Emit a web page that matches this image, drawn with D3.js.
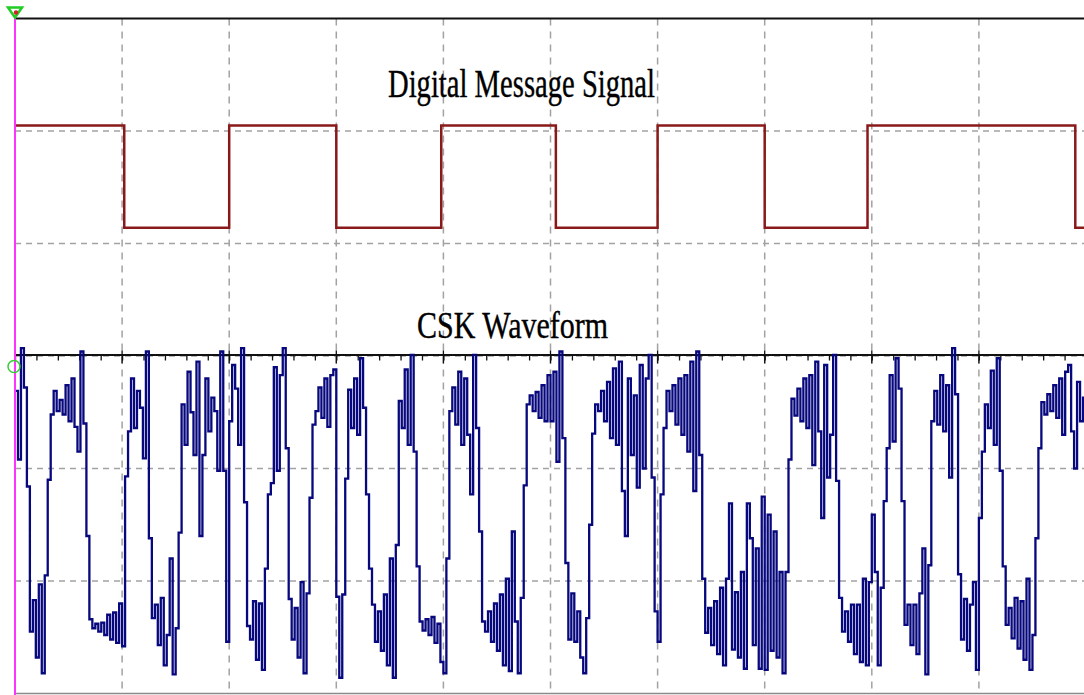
<!DOCTYPE html>
<html>
<head>
<meta charset="utf-8">
<script src="https://cdn.jsdelivr.net/npm/d3@7"></script>
<style>
  html, body { margin: 0; padding: 0; background: #fff; overflow: hidden; }
</style>
</head>
<body>
<div id="chart"></div>
<script>
// ================================
// Data (time in scope divisions, amplitude in grid rows)
// ================================
const titles = ['Digital Message Signal', 'CSK Waveform'];

// Digital message: bit edges and bit values
const msgEdges = [0, 1.02, 2.0, 3.0, 3.98, 5.05, 6.0, 7.0, 7.96, 9.9];
const msgBits = [1, 0, 1, 0, 1, 0, 1, 0, 1, 0];
const msgHigh = 5.05;
const msgLow = 4.14;

// CSK waveform, 36 held samples per division
const cskStep = 1 / 36;
const cskDiv0 = [2.69, 2.08, 3.07, 2.72, 1.84, 0.55, 0.83, 0.32, 0.97, 0.18, 1.05, 1.90, 2.48, 2.69, 2.51, 2.61, 2.48, 2.74, 2.42, 2.80, 2.37, 2.15, 3.04, 2.40, 1.40, 0.66, 0.58, 0.62, 0.55, 0.63, 0.52, 0.70, 0.48, 0.72, 0.45, 0.80];
const cskDiv1 = [0.42, 1.93, 2.33, 2.80, 2.36, 2.69, 2.54, 2.09, 3.04, 1.38, 0.67, 0.79, 0.43, 0.85, 0.25, 0.52, 1.20, 0.17, 0.58, 1.43, 2.57, 2.21, 2.86, 2.50, 2.12, 2.95, 1.40, 2.12, 2.80, 2.33, 2.63, 2.51, 1.98, 3.04, 1.98, 0.46];
const cskDiv2 = [2.42, 2.92, 2.71, 2.21, 3.07, 1.70, 0.60, 0.48, 0.82, 0.30, 0.80, 0.21, 1.11, 1.77, 1.87, 2.90, 1.98, 2.83, 3.07, 2.18, 0.84, 0.48, 0.76, 0.32, 0.99, 0.18, 0.89, 1.74, 2.39, 2.51, 2.72, 2.45, 2.80, 2.37, 2.83, 2.88];
const cskDiv3 = [0.86, 0.14, 0.88, 1.91, 2.70, 2.36, 2.80, 2.30, 2.98, 2.54, 1.77, 1.11, 0.79, 0.46, 0.73, 0.38, 0.88, 0.25, 1.20, 0.14, 1.32, 2.60, 2.36, 2.88, 2.21, 3.01, 2.15, 1.13, 0.64, 0.56, 0.66, 0.52, 0.68, 0.45, 0.62, 0.28];
const cskDiv4 = [0.18, 1.20, 2.51, 2.72, 2.39, 2.86, 2.21, 2.80, 2.30, 1.77, 3.01, 2.36, 1.44, 0.64, 0.55, 0.73, 0.46, 0.80, 0.38, 0.88, 0.25, 1.02, 0.20, 1.44, 0.64, 0.18, 0.85, 1.85, 2.57, 2.65, 2.51, 2.68, 2.45, 2.74, 2.42, 2.83];
const cskDiv5 = [2.42, 2.86, 2.06, 3.04, 2.27, 1.16, 0.48, 0.89, 0.46, 0.73, 0.32, 0.18, 0.67, 1.50, 2.31, 2.57, 2.51, 2.69, 2.42, 2.77, 2.27, 2.89, 2.21, 2.95, 1.80, 1.40, 2.80, 2.12, 2.65, 1.83, 2.92, 2.00, 2.80, 3.01, 1.92, 0.73];
const cskDiv6 = [0.46, 1.77, 2.36, 2.69, 2.51, 2.74, 2.39, 2.80, 2.30, 2.83, 2.15, 2.95, 1.80, 3.04, 2.12, 1.02, 0.54, 0.76, 0.43, 0.82, 0.35, 0.94, 0.25, 1.02, 1.69, 0.39, 0.90, 0.32, 1.08, 0.22, 1.69, 1.38, 0.43, 1.29, 0.22, 1.75];
const cskDiv7 = [0.21, 1.59, 0.38, 1.44, 0.32, 1.08, 0.18, 1.08, 2.08, 2.62, 2.47, 2.71, 2.42, 2.80, 2.36, 2.83, 2.03, 2.95, 2.33, 1.56, 2.92, 1.92, 2.30, 3.01, 1.89, 0.85, 0.55, 0.73, 0.46, 0.79, 0.35, 0.79, 0.28, 1.02, 0.25, 0.99];
const cskDiv8 = [1.59, 1.08, 0.25, 0.94, 1.71, 2.18, 2.83, 2.24, 2.98, 2.71, 1.71, 0.61, 0.79, 0.43, 0.79, 0.35, 0.89, 1.29, 0.17, 1.14, 2.42, 2.69, 2.39, 2.83, 2.33, 2.74, 1.92, 3.07, 2.66, 1.06, 0.48, 0.84, 0.38, 0.79, 0.99, 0.21];
const cskDiv9 = [1.56, 2.15, 2.57, 2.36, 2.87, 2.21, 2.98, 1.98, 1.13, 0.61, 0.76, 0.49, 0.85, 0.40, 0.82, 0.30, 1.02, 0.21, 0.52, 1.38, 2.18, 2.59, 2.48, 2.66, 2.51, 2.74, 2.45, 2.80, 2.30, 2.86, 2.92, 2.33, 2.00, 2.77, 2.42, 2.63];

// ================================
// Setup
// ================================
const width = 1084;
const height = 695;
const serif = '"Liberation Serif", "Times New Roman", serif';

const x = d3.scaleLinear().domain([0, 10]).range([15, 1086]);
const y = d3.scaleLinear().domain([0, 6]).range([693.5, 18.5]);

const svg = d3.select('#chart')
  .append('svg')
  .attr('width', width)
  .attr('height', height);

// Grid
svg.append('g')
  .selectAll('line')
  .data(d3.range(1, 10))
  .join('line')
  .attr('x1', d => x(d))
  .attr('x2', d => x(d))
  .attr('y1', y(6))
  .attr('y2', y(0))
  .attr('stroke', '#a2a2a2')
  .attr('stroke-width', 1.5)
  .attr('stroke-dasharray', '7,6');

svg.append('g')
  .selectAll('line')
  .data(d3.range(1, 6))
  .join('line')
  .attr('x1', x(0))
  .attr('x2', width)
  .attr('y1', d => y(d))
  .attr('y2', d => y(d))
  .attr('stroke', '#a2a2a2')
  .attr('stroke-width', 1.5)
  .attr('stroke-dasharray', '6,5');

// Bottom border
svg.append('line')
  .attr('x1', x(0)).attr('x2', width)
  .attr('y1', y(0)).attr('y2', y(0))
  .attr('stroke', '#8a8a8a')
  .attr('stroke-width', 1.5);

// Top trace baseline
svg.append('line')
  .attr('x1', x(0)).attr('x2', width)
  .attr('y1', y(6)).attr('y2', y(6))
  .attr('stroke', '#111')
  .attr('stroke-width', 2);

// CSK baseline with ticks
const cskAxisY = y(3) - 1.5;
const cskAxis = d3.axisBottom(x)
  .tickValues(d3.range(0, 10.01, 0.2))
  .tickSize(6)
  .tickSizeOuter(0)
  .tickFormat('');

const axisG = svg.append('g')
  .attr('transform', `translate(0,${cskAxisY})`)
  .call(cskAxis);
axisG.select('.domain').attr('stroke', '#111').attr('stroke-width', 2);
axisG.selectAll('.tick line').attr('stroke', '#111').attr('stroke-width', 1.3);

svg.append('g')
  .selectAll('line')
  .data(d3.range(1, 10))
  .join('line')
  .attr('x1', d => x(d))
  .attr('x2', d => x(d))
  .attr('y1', cskAxisY - 4)
  .attr('y2', cskAxisY + 9)
  .attr('stroke', '#111')
  .attr('stroke-width', 1.3);

// ================================
// Traces
// ================================
const stepLine = d3.line()
  .x(d => x(d.t))
  .y(d => y(d.v))
  .curve(d3.curveStepAfter);

const msgPts = msgEdges.map((t, i) => ({ t, v: msgBits[i] ? msgHigh : msgLow }));
msgPts.push({ t: 10, v: msgPts[msgPts.length - 1].v });

svg.append('path')
  .datum(msgPts)
  .attr('fill', 'none')
  .attr('stroke', '#8a1a1a')
  .attr('stroke-width', 2.5)
  .attr('d', stepLine);

const cskValues = [].concat(cskDiv0, cskDiv1, cskDiv2, cskDiv3, cskDiv4,
  cskDiv5, cskDiv6, cskDiv7, cskDiv8, cskDiv9);
const cskPts = cskValues.map((v, i) => ({ t: i * cskStep, v }));
cskPts.push({ t: cskValues.length * cskStep, v: cskValues[cskValues.length - 1] });

svg.append('path')
  .datum(cskPts)
  .attr('fill', 'none')
  .attr('stroke', '#08087e')
  .attr('stroke-width', 2.3)
  .attr('d', stepLine);

// ================================
// Titles
// ================================
svg.append('text')
  .attr('x', 388)
  .attr('y', 97)
  .attr('font-family', serif)
  .attr('font-size', '40px')
  .attr('fill', '#000')
  .attr('stroke', '#000')
  .attr('stroke-width', 0.4)
  .attr('textLength', 267)
  .attr('lengthAdjust', 'spacingAndGlyphs')
  .text(titles[0]);

svg.append('text')
  .attr('x', 417)
  .attr('y', 338)
  .attr('font-family', serif)
  .attr('font-size', '38px')
  .attr('fill', '#000')
  .attr('stroke', '#000')
  .attr('stroke-width', 0.4)
  .attr('textLength', 191)
  .attr('lengthAdjust', 'spacingAndGlyphs')
  .text(titles[1]);

// ================================
// Cursor line and markers
// ================================
svg.append('line')
  .attr('x1', x(0)).attr('x2', x(0))
  .attr('y1', y(6)).attr('y2', height)
  .attr('stroke', '#ff33ff')
  .attr('stroke-width', 2);

svg.append('path')
  .attr('d', `M${x(0) - 7},${y(6) - 11} L${x(0) + 7},${y(6) - 11} L${x(0)},${y(6) - 1} Z`)
  .attr('fill', 'none')
  .attr('stroke', '#22cc22')
  .attr('stroke-width', 2.5);

svg.append('circle')
  .attr('cx', x(0) + 1)
  .attr('cy', y(6) - 6)
  .attr('r', 2.2)
  .attr('fill', '#cc2222');

svg.append('circle')
  .attr('cx', x(0) - 1)
  .attr('cy', cskAxisY + 12)
  .attr('r', 6)
  .attr('fill', 'none')
  .attr('stroke', '#33cc33')
  .attr('stroke-width', 1.5);
</script>
</body>
</html>
